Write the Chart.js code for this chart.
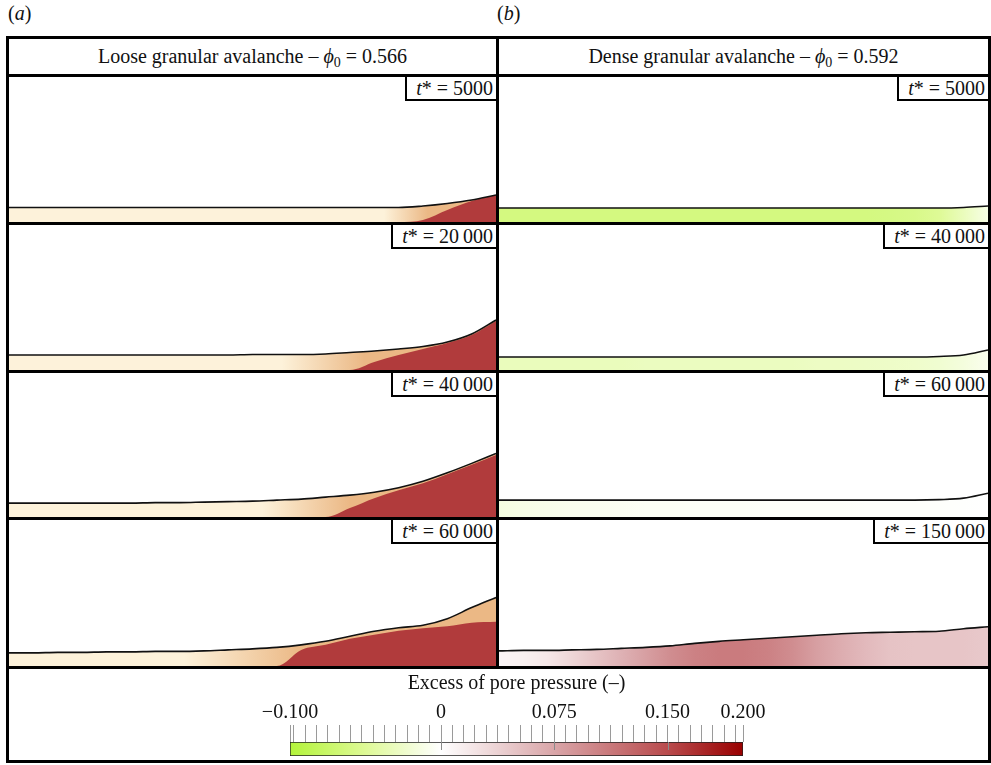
<!DOCTYPE html>
<html>
<head>
<meta charset="utf-8">
<script src="https://cdn.jsdelivr.net/npm/chart.js@4.4.1/dist/chart.umd.min.js"></script>
<style>
  body { margin: 0; width: 991px; height: 765px; overflow: hidden; background: #fff; position: relative;
         font-family: "Liberation Serif", Tinos, "Times New Roman", "DejaVu Serif", serif; color: #111; }
  .bar { position: absolute; background: #000; }
  .hdr { position: absolute; display: flex; align-items: center; justify-content: center; font-size: 20px; white-space: pre; }
  .lbl { position: absolute; font-size: 20px; }
  .cell { position: absolute; overflow: hidden; }
  .cell canvas { position: absolute; left: 0; top: 0; }
  .tag { position: absolute; right: 0; top: 0; height: 22px; line-height: 23px; font-size: 20px; padding: 0 3px 0 9px;
         border-left: 2px solid #000; border-bottom: 2px solid #000; background: #fff; white-space: nowrap; }
  .sb { font-size: 14px; position: relative; top: 6px; }
</style>
</head>
<body>
<div class="lbl" style="left:8px;top:2px">(<i>a</i>)</div>
<div class="lbl" style="left:497px;top:2px">(<i>b</i>)</div>

<!-- frame -->
<div class="bar" style="left:6px;top:36px;width:985px;height:3px"></div>
<div class="bar" style="left:6px;top:760px;width:985px;height:3px"></div>
<div class="bar" style="left:6px;top:36px;width:3px;height:727px"></div>
<div class="bar" style="left:988px;top:36px;width:3px;height:727px"></div>
<div class="bar" style="left:6px;top:74px;width:985px;height:3px"></div>
<div class="bar" style="left:496px;top:36px;width:3px;height:633px"></div>
<div class="bar" style="left:6px;top:222px;width:985px;height:3px"></div>
<div class="bar" style="left:6px;top:370px;width:985px;height:3px"></div>
<div class="bar" style="left:6px;top:517px;width:985px;height:3px"></div>
<div class="bar" style="left:6px;top:666px;width:985px;height:3px"></div>

<div class="hdr" style="left:9px;top:39px;width:487px;height:35px">Loose granular avalanche – <i>ϕ</i><span class="sb">0</span> = 0.566</div>
<div class="hdr" style="left:499px;top:39px;width:489px;height:35px">Dense granular avalanche – <i>ϕ</i><span class="sb">0</span> = 0.592</div>

<div id="panels"></div>
<div class="cell" style="left:9px;top:669px;width:979px;height:91px"><canvas id="cbar" width="979" height="91"></canvas></div>

<script>
const $ = (id) => document.getElementById(id);
const FONT = '"Liberation Serif", Tinos, "Times New Roman", "DejaVu Serif", serif';

// sample positions along the slope (fraction of panel width)
const xPos = [0, 0.05, 0.1, 0.15, 0.2, 0.25, 0.3, 0.35, 0.4, 0.45, 0.5,
              0.55, 0.6, 0.65, 0.7, 0.75, 0.8, 0.85, 0.9, 0.95, 1];

const looseTimes = ["5000", "20\u2009000", "40\u2009000", "60\u2009000"];
const denseTimes = ["5000", "40\u2009000", "60\u2009000", "150\u2009000"];

// free-surface height of the loose avalanche
const looseSurface = [
  [14.5, 14.5, 14.5, 14.5, 14.5, 14.5, 14.5, 14.5, 14.5, 14.5, 14.5, 14.5, 14.5, 14.5, 14.5, 14.5, 14.5, 16, 18.5, 22, 27],
  [15, 15, 15, 15, 15, 15, 15, 15, 15, 15, 15.5, 15.5, 15.5, 16, 17.5, 19, 21, 23.5, 28, 36, 50],
  [14, 14, 14, 14, 14, 14, 14.5, 14.5, 15, 15.5, 16, 17, 18, 20, 22, 25, 29.5, 36, 44.5, 54, 64],
  [13, 13, 13.5, 13.5, 14, 14, 14.5, 14.5, 15, 16, 17, 18.5, 21, 24.5, 29.5, 34.5, 38, 40.5, 47, 58, 68],
];
// top of the high-pressure core (loose)
const looseCore = [
  [0, 0, 0, 0, 0, 0, 0, 0, 0, 0, 0, 0, 0, 0, 0, 0, 0, 2, 12, 21, 27],
  [0, 0, 0, 0, 0, 0, 0, 0, 0, 0, 0, 0, 0, 0, 0, 8, 15, 21, 27, 35, 49],
  [0, 0, 0, 0, 0, 0, 0, 0, 0, 0, 0, 0, 0, 0, 9, 19, 27, 34, 43, 52.5, 62.5],
  [0, 0, 0, 0, 0, 0, 0, 0, 0, 0, 0, 0, 16, 21, 27, 31, 35, 37.5, 39.5, 43, 44],
];
// where the pale layer starts to darken, and where it is fully tan
const looseTanFrom = [0.77, 0.56, 0.52, 0.36];
const looseTanAt = [0.86, 0.73, 0.7, 0.6];

// free-surface height of the dense avalanche
const denseSurface = [
  [14, 14, 14, 14, 14, 14, 14, 14, 14, 14, 14, 14, 14, 14, 14, 14, 14, 14, 14, 14.5, 16],
  [13, 13, 13, 13, 13, 13, 13, 13, 13, 13, 13, 13, 13, 13, 13, 13, 13, 13, 13.5, 15, 20],
  [17, 17, 17, 17, 17, 17, 17, 17, 17, 17, 17, 17, 17, 17, 17, 17, 17, 17, 17.5, 19, 24],
  [15, 15.5, 15.5, 16, 16.5, 17.5, 18.5, 20, 22.5, 24.5, 26, 27.5, 29, 30.5, 32, 33, 33.5, 34, 34.5, 37, 39],
];
// excess pore pressure along the dense layer
const densePressure = [
  [-0.062, -0.062, -0.062, -0.062, -0.062, -0.062, -0.062, -0.062, -0.062, -0.062, -0.062, -0.062, -0.062, -0.062, -0.062, -0.062, -0.06, -0.057, -0.05, -0.032, -0.012],
  [-0.032, -0.032, -0.032, -0.032, -0.032, -0.032, -0.03, -0.03, -0.03, -0.03, -0.03, -0.03, -0.03, -0.028, -0.028, -0.027, -0.026, -0.025, -0.022, -0.016, -0.008],
  [-0.015, -0.012, -0.01, -0.008, -0.007, -0.006, -0.005, -0.005, -0.004, -0.004, -0.004, -0.003, -0.003, -0.003, -0.003, -0.002, -0.002, -0.002, -0.002, -0.001, 0],
  [0.008, 0.012, 0.02, 0.035, 0.05, 0.065, 0.08, 0.095, 0.105, 0.11, 0.11, 0.105, 0.095, 0.08, 0.068, 0.058, 0.05, 0.048, 0.048, 0.048, 0.045],
];

const cbMin = -0.1, cbMax = 0.2;
const cbLabels = [-0.1, 0, 0.075, 0.15, 0.2];
const cbMinorStep = 0.0075;

const cmap = [
  [-0.1, [179, 244, 58]], [-0.05, [222, 250, 150]], [0, [255, 255, 255]],
  [0.075, [217, 165, 168]], [0.15, [185, 75, 77]], [0.2, [153, 0, 0]],
];
const CREAM = "#fdf2da", TAN = "#ebb885", RED = "#b13b3c";

function colorOf(v) {
  v = Math.max(cbMin, Math.min(cbMax, v));
  for (let i = 1; i < cmap.length; i++) {
    const [v1, c1] = cmap[i];
    const [v0, c0] = cmap[i - 1];
    if (v <= v1) {
      const t = (v - v0) / (v1 - v0);
      const c = c0.map((a, k) => Math.round(a + (c1[k] - a) * t));
      return `rgb(${c[0]},${c[1]},${c[2]})`;
    }
  }
  return "rgb(153,0,0)";
}

const pts = (arr) => xPos.map((x, i) => ({ x, y: arr[i] }));

function hGradient(ctx, stops, fallback) {
  const a = ctx.chart.chartArea;
  if (!a) return fallback;
  const g = ctx.chart.ctx.createLinearGradient(a.left, 0, a.right, 0);
  for (const [p, c] of stops) g.addColorStop(p, c);
  return g;
}

function panel(left, top, w, h, time, datasets) {
  const cell = document.createElement("div");
  cell.className = "cell";
  cell.style.cssText = `left:${left}px;top:${top}px;width:${w}px;height:${h}px`;
  const cv = document.createElement("canvas");
  cv.width = w; cv.height = h;
  cell.appendChild(cv);
  const tag = document.createElement("div");
  tag.className = "tag";
  tag.innerHTML = `<i>t</i>* = ${time}`;
  cell.appendChild(tag);
  $("panels").appendChild(cell);

  new Chart(cv, {
    type: "line",
    data: { datasets },
    options: {
      responsive: false, animation: false,
      layout: { padding: 0 },
      plugins: { legend: { display: false }, tooltip: { enabled: false } },
      elements: { point: { radius: 0 }, line: { cubicInterpolationMode: "monotone" } },
      scales: {
        x: { type: "linear", min: 0, max: 1, display: false },
        y: { min: 0, max: 145, display: false },
      },
    },
  });
}

const rowTop = [77, 225, 373, 520];
const rowH = [145, 145, 144, 146];

for (let r = 0; r < 4; r++) {
  panel(9, rowTop[r], 487, rowH[r], looseTimes[r], [
    { data: pts(looseSurface[r]), borderColor: "#111", borderWidth: 1.6, fill: false },
    { data: pts(looseCore[r]), borderWidth: 0, fill: "origin", backgroundColor: RED },
    {
      data: pts(looseSurface[r]), borderWidth: 0, fill: "origin",
      backgroundColor: (ctx) => hGradient(ctx, [[0, CREAM], [looseTanFrom[r], CREAM], [looseTanAt[r], TAN], [1, TAN]], CREAM),
    },
  ]);
  panel(499, rowTop[r], 489, rowH[r], denseTimes[r], [
    { data: pts(denseSurface[r]), borderColor: "#111", borderWidth: 1.6, fill: false },
    {
      data: pts(denseSurface[r]), borderWidth: 0, fill: "origin",
      backgroundColor: (ctx) => hGradient(ctx, xPos.map((x, i) => [x, colorOf(densePressure[r][i])]), "#fff"),
    },
  ]);
}

// colour bar
const cbTicks = [cbMin];
for (let k = Math.ceil(cbMin / cbMinorStep); k * cbMinorStep <= cbMax + 1e-9; k++) {
  const v = +(k * cbMinorStep).toFixed(4);
  if (v > cbMin + 1e-9 && v < cbMax - 1e-9) cbTicks.push(v);
}
cbTicks.push(cbMax);

function cbLabel(v) {
  const m = cbLabels.find((l) => Math.abs(l - v) < 1e-6);
  if (m === undefined) return "";
  if (m === 0) return "0";
  return (m < 0 ? "\u2212" : "") + Math.abs(m).toFixed(3);
}

// inner part of the labelled ticks, drawn a little way into the bar
const majorTickInBar = {
  id: "majorTickInBar",
  afterDatasetsDraw(chart) {
    const { ctx, chartArea: a, scales: { x } } = chart;
    ctx.save();
    ctx.strokeStyle = "#8a8a8a";
    ctx.lineWidth = 1;
    for (const v of cbLabels.slice(1, -1)) {
      const px = Math.round(x.getPixelForValue(v)) + 0.5;
      ctx.beginPath();
      ctx.moveTo(px, a.top);
      ctx.lineTo(px, a.top + 8);
      ctx.stroke();
    }
    ctx.restore();
  },
};

new Chart($("cbar"), {
  type: "bar",
  data: {
    labels: [""],
    datasets: [{
      data: [[cbMin, cbMax]],
      borderColor: "#222", borderWidth: 1, borderSkipped: false,
      barPercentage: 1, categoryPercentage: 1,
      backgroundColor: (ctx) => hGradient(ctx, cmap.map(([v]) => [(v - cbMin) / (cbMax - cbMin), colorOf(v)]), "#fff"),
    }],
  },
  plugins: [majorTickInBar],
  options: {
    indexAxis: "y", responsive: false, animation: false,
    layout: { padding: { left: 281, right: 245, top: 0, bottom: 4 } },
    plugins: { legend: { display: false }, tooltip: { enabled: false } },
    scales: {
      y: { display: false },
      x: {
        position: "top", min: cbMin, max: cbMax,
        afterBuildTicks: (s) => { s.ticks = cbTicks.map((value) => ({ value })); },
        afterFit: (s) => { s.height = 73; },
        ticks: { autoSkip: false, maxRotation: 0, padding: 0, color: "#111", font: { family: FONT, size: 20 },
                 callback: (v) => cbLabel(v) },
        grid: { drawOnChartArea: false, tickLength: 17, color: "#9a9a9a", lineWidth: 1 },
        border: { display: false },
        title: { display: true, text: "Excess of pore pressure (–)", color: "#111",
                 font: { family: FONT, size: 20 }, padding: { top: 3, bottom: 0 } },
      },
    },
  },
});
</script>
</body>
</html>
